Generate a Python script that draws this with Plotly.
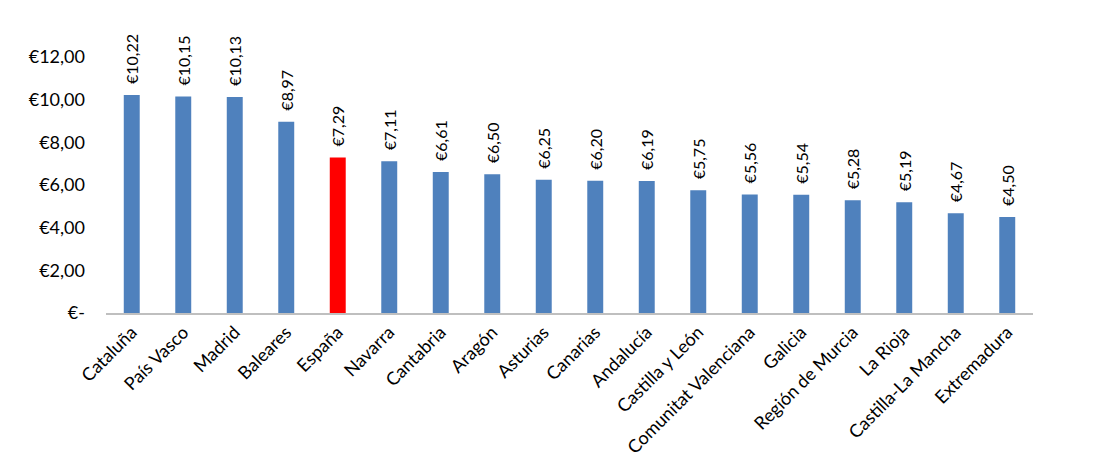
import plotly.graph_objects as go

# Coste medio por comunidad autónoma
regiones = ["Cataluña", "País Vasco", "Madrid", "Baleares", "España", "Navarra",
            "Cantabria", "Aragón", "Asturias", "Canarias", "Andalucía",
            "Castilla y León", "Comunitat Valenciana", "Galicia",
            "Región de Murcia", "La Rioja", "Castilla-La Mancha", "Extremadura"]
valores = [10.22, 10.15, 10.13, 8.97, 7.29, 7.11, 6.61, 6.50, 6.25, 6.20, 6.19,
           5.75, 5.56, 5.54, 5.28, 5.19, 4.67, 4.50]

y_ticks = [0, 2, 4, 6, 8, 10, 12]
y_labels = ["€-", "€2,00", "€4,00", "€6,00", "€8,00", "€10,00", "€12,00"]

colores = ["#FF0000" if r == "España" else "#4F81BD" for r in regiones]
# leading space gives the label a little gap above the bar, like in Excel
etiquetas = ["\u2002€" + f"{v:.2f}".replace(".", ",") for v in valores]

fig = go.Figure(go.Bar(
    x=regiones,
    y=valores,
    marker=dict(color=colores, line=dict(width=0)),
    text=etiquetas,
    textposition="outside",
    textangle=-90,
    constraintext="none",
    textfont=dict(size=16, color="black"),
    cliponaxis=False,
))

fig.update_layout(
    width=1100, height=471,
    margin=dict(l=98, r=75, t=49, b=166),
    plot_bgcolor="white", paper_bgcolor="white",
    font=dict(family="Lato, Open Sans, sans-serif", size=16, color="black"),
    bargap=0.69,
    showlegend=False,
)
fig.update_xaxes(tickangle=-45, showline=True, linecolor="#BFBFBF", linewidth=1.5,
                 ticks="", showgrid=False, automargin=False, tickfont=dict(size=18))
fig.update_yaxes(range=[0, 12], tickvals=y_ticks, ticktext=y_labels,
                 showgrid=False, zeroline=False, showline=False, ticks="",
                 ticklabelstandoff=20, tickfont=dict(size=18), automargin=False)

fig.write_html("out.html")
